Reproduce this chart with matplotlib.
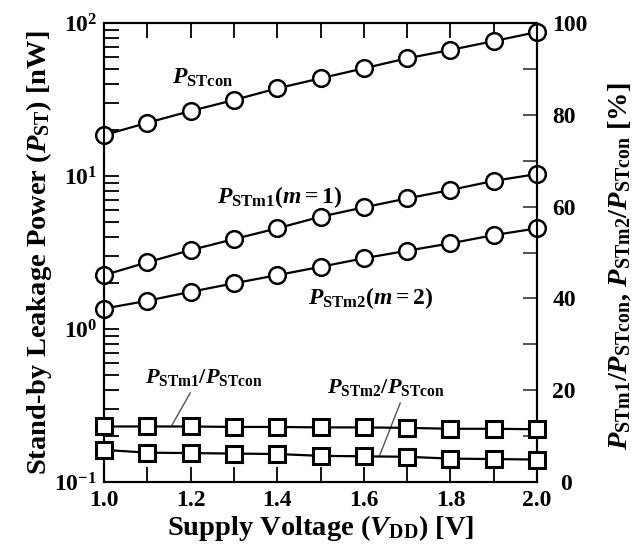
import numpy as np
import matplotlib
matplotlib.use("Agg")
import matplotlib.pyplot as plt
from matplotlib.transforms import ScaledTranslation

plt.rcParams['font.family'] = ['Liberation Serif', 'DejaVu Serif']
plt.rcParams['font.weight'] = 'bold'
plt.rcParams['axes.labelweight'] = 'bold'
plt.rcParams['mathtext.fontset'] = 'custom'
plt.rcParams['mathtext.rm'] = 'Liberation Serif:bold'
plt.rcParams['mathtext.it'] = 'Liberation Serif:italic:bold'
plt.rcParams['mathtext.bf'] = 'Liberation Serif:bold'

vdd = [1.0, 1.1, 1.2, 1.3, 1.4, 1.5, 1.6, 1.7, 1.8, 1.9, 2.0]
p_stcon = [18.5, 22.3, 26.6, 31.4, 37.4, 43.5, 50.6, 58.8, 66.7, 76.2, 87.3]
p_stm1 = [2.25, 2.73, 3.28, 3.87, 4.55, 5.42, 6.24, 7.14, 8.1, 9.3, 10.3]
p_stm2 = [1.36, 1.53, 1.75, 1.99, 2.25, 2.55, 2.90, 3.25, 3.63, 4.11, 4.55]
ratio_m1 = [12.1, 12.1, 12.1, 12.0, 12.0, 11.9, 11.9, 11.8, 11.6, 11.6, 11.5]
ratio_m2 = [7.0, 6.4, 6.3, 6.2, 6.1, 5.7, 5.6, 5.5, 5.1, 5.0, 4.9]

fig = plt.figure(figsize=(6.44, 5.5), dpi=100)
ax = fig.add_axes([0.1615, 0.1236, 0.6724, 0.8345])
ax2 = ax.twinx()

circ = dict(color='black', lw=1.6, marker='o', ms=12, mfc='white', mec='black', mew=1.8)
sq = dict(color='black', lw=1.6, marker='s', ms=12, mfc='white', mec='black', mew=2.2)

ax.plot(vdd, p_stcon, **circ, clip_on=False, zorder=3)
ax.plot(vdd, p_stm1, **circ, clip_on=False, zorder=3)
ax.plot(vdd, p_stm2, **circ, clip_on=False, zorder=3)
ax2.plot(vdd, ratio_m1, **sq, clip_on=False, zorder=3)
ax2.plot(vdd, ratio_m2, **sq, clip_on=False, zorder=3)

ax.set_yscale('log')
ax.set_ylim(0.1, 100)
ax.set_xlim(1.0, 2.0)
ax2.set_ylim(0, 100)

ax.set_xticks([1.0, 1.2, 1.4, 1.6, 1.8, 2.0])
ax.set_xticklabels(["1.0", "1.2", "1.4", "1.6", "1.8", "2.0"])
ax.set_xticks(np.arange(1.0, 2.01, 0.1), minor=True)
ax.tick_params(axis='x', which='both', direction='in', top=True, length=11, width=1.3,
               labelsize=17, pad=6)
ax.tick_params(axis='y', which='both', direction='in', length=11, width=1.3, labelsize=17,
               pad=5)
ax2.set_yticks([0, 20, 40, 60, 80, 100])
ax2.set_yticks([10, 30, 50, 70, 90], minor=True)
ax2.tick_params(axis='y', which='both', direction='in', length=10, width=1.3,
                labelsize=17, color='#444444', pad=11)
# the "0" label is nudged right in the original, clear of "2.0"
zero = ax2.get_yticklabels()[0]
zero.set_transform(zero.get_transform() + ScaledTranslation(0.08, 0, fig.dpi_scale_trans))

for a in (ax, ax2):
    for s in a.spines.values():
        s.set_linewidth(1.5)

ax.set_xlabel(r"Supply Voltage ($V_{\mathrm{DD}}$) [V]", fontsize=20.5, labelpad=1)
ax.set_ylabel(r"Stand-by Leakage Power ($P_{\mathrm{ST}}$) [nW]", fontsize=20.5, labelpad=0)
ax2.set_ylabel(r"$P_{\mathrm{STm1}}/P_{\mathrm{STcon}}$, $P_{\mathrm{STm2}}/P_{\mathrm{STcon}}$ [%]",
               fontsize=20.5)
ax2.yaxis.set_label_coords(1.16, 0.47)

ax.text(1.157, 44, r"$P_{\mathrm{STcon}}$", fontsize=17, va='center')
ax.text(1.261, 7.3, r"$P_{\mathrm{STm1}}(m{=}1)$", fontsize=17, va='center')
ax.text(1.471, 1.6, r"$P_{\mathrm{STm2}}(m{=}2)$", fontsize=17, va='center')

ax2.text(1.095, 22.7, r"$P_{\mathrm{STm1}}/P_{\mathrm{STcon}}$", fontsize=16, va='center')
ax2.plot([1.199, 1.157], [19.4, 12.4], color='#555555', lw=1)
ax2.text(1.515, 20.7, r"$P_{\mathrm{STm2}}/P_{\mathrm{STcon}}$", fontsize=16, va='center')
ax2.plot([1.684, 1.637], [17.2, 5.9], color='#555555', lw=1)

fig.savefig("out.png", dpi=100)
